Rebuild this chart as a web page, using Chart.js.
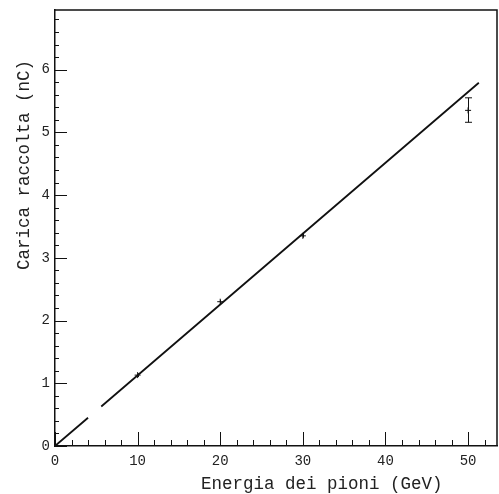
<!DOCTYPE html>
<html>
<head>
<meta charset="utf-8">
<script src="https://cdn.jsdelivr.net/npm/chart.js"></script>
<style>
  html, body { margin: 0; padding: 0; background: #fff; }
  #wrap { width: 499px; height: 494px; }
</style>
</head>
<body>
<div id="wrap"><canvas id="chart"></canvas></div>
<script>
// measured points (GeV, nC)
const energy = [10, 20, 30, 50];
const charge = [1.13, 2.3, 3.35, 5.35];
const errLow = [1.10, 2.27, 3.32, 5.16];
const errHigh = [1.16, 2.33, 3.38, 5.55];

// fitted line (with the small break seen near the origin)
const fitX = [0, 4.0, null, 5.6, 51.3];
const fitY = [0, 0.45, null, 0.63, 5.79];

const xTicks = [0, 10, 20, 30, 40, 50];
const yTicks = [0, 1, 2, 3, 4, 5, 6];

const xTitle = "Energia dei pioni (GeV)";
const yTitle = "Carica raccolta (nC)";

const mono = "'Liberation Mono', 'DejaVu Sans Mono', monospace";

const frame = {
  id: "frame",
  afterDatasetsDraw(chart) {
    const { ctx, chartArea: a, scales: { x, y } } = chart;
    ctx.save();
    ctx.strokeStyle = "#111";
    ctx.lineWidth = 1;
    // inward ticks on x axis
    for (let v = 0; v <= 52; v += 2) {
      const px = Math.round(x.getPixelForValue(v)) + 0.5;
      const len = v % 10 === 0 ? 14 : 6;
      ctx.beginPath();
      ctx.moveTo(px, a.bottom);
      ctx.lineTo(px, a.bottom - len);
      ctx.stroke();
    }
    // inward ticks on y axis
    for (let i = 0; i <= 34; i++) {
      const py = Math.round(y.getPixelForValue(i * 0.2)) + 0.5;
      const len = i % 5 === 0 ? 12 : 4;
      ctx.beginPath();
      ctx.moveTo(a.left, py);
      ctx.lineTo(a.left + len, py);
      ctx.stroke();
    }
    // top and right frame
    ctx.lineWidth = 1.5;
    ctx.beginPath();
    ctx.moveTo(a.left, a.top);
    ctx.lineTo(a.right, a.top);
    ctx.lineTo(a.right, a.bottom);
    ctx.stroke();
    // error bars
    ctx.lineWidth = 1;
    energy.forEach((e, i) => {
      const px = Math.round(x.getPixelForValue(e)) + 0.5;
      const top = y.getPixelForValue(errHigh[i]);
      const bot = y.getPixelForValue(errLow[i]);
      ctx.beginPath();
      ctx.moveTo(px, top);
      ctx.lineTo(px, bot);
      if (bot - top > 8) {
        ctx.moveTo(px - 3.5, top); ctx.lineTo(px + 3.5, top);
        ctx.moveTo(px - 3.5, bot); ctx.lineTo(px + 3.5, bot);
      }
      ctx.stroke();
    });
    // axis titles (placed off-centre, as in the original figure)
    ctx.fillStyle = "#222";
    ctx.font = "17.5px " + mono;
    ctx.textAlign = "center";
    ctx.textBaseline = "alphabetic";
    ctx.fillText(xTitle, x.getPixelForValue(32.3), 489);
    ctx.translate(29, y.getPixelForValue(4.48));
    ctx.rotate(-Math.PI / 2);
    ctx.fillText(yTitle, 0, 0);
    ctx.restore();
  }
};

new Chart(document.getElementById("chart"), {
  type: "scatter",
  data: {
    datasets: [
      {
        label: "fit",
        data: fitX.map((v, i) => (v === null ? { x: null, y: null } : { x: v, y: fitY[i] })),
        showLine: true,
        spanGaps: false,
        borderColor: "#111",
        borderWidth: 1.8,
        pointRadius: 0,
      },
      {
        label: "data",
        data: energy.map((e, i) => ({ x: e, y: charge[i] })),
        pointStyle: "cross",
        pointRadius: 3,
        borderColor: "#111",
        borderWidth: 1,
        backgroundColor: "#111",
      },
    ],
  },
  options: {
    responsive: true,
    maintainAspectRatio: false,
    animation: false,
    layout: { autoPadding: false, padding: { top: 10, right: 2, left: 0, bottom: 0 } },
    plugins: { legend: { display: false }, tooltip: { enabled: false } },
    scales: {
      x: {
        type: "linear",
        min: 0,
        max: 53.5,
        afterBuildTicks: (s) => { s.ticks = xTicks.map((v) => ({ value: v })); },
        afterFit: (s) => { s.height = 48; s.paddingLeft = 0; s.paddingRight = 0; },
        grid: { drawOnChartArea: false, drawTicks: false },
        border: { color: "#111", width: 1.5 },
        ticks: { color: "#222", padding: 7, font: { family: mono, size: 14 } },
      },
      y: {
        type: "linear",
        min: 0,
        max: 6.95,
        afterBuildTicks: (s) => { s.ticks = yTicks.map((v) => ({ value: v })); },
        afterFit: (s) => { s.width = 55; s.paddingTop = 0; s.paddingBottom = 0; },
        grid: { drawOnChartArea: false, drawTicks: false },
        border: { color: "#111", width: 1.5 },
        ticks: { color: "#222", padding: 5, font: { family: mono, size: 14 } },
      },
    },
  },
  plugins: [frame],
});
</script>
</body>
</html>
